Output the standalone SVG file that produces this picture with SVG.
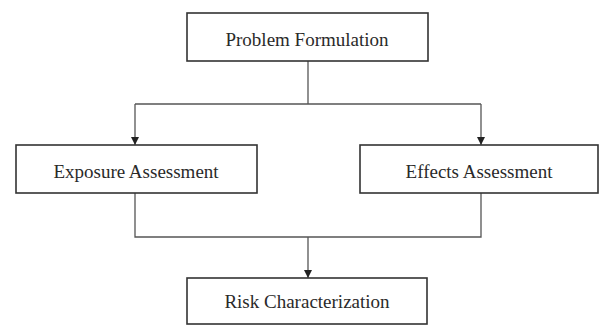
<svg xmlns="http://www.w3.org/2000/svg" width="599" height="325" viewBox="0 0 599 325">
<style>
.box{fill:#fff;stroke:#333;stroke-width:1.6}
.lbl{font-family:"Liberation Serif","Times New Roman",serif;font-size:19px;fill:#2a2a2a;text-anchor:middle;dominant-baseline:central}
.con{fill:none;stroke:#555;stroke-width:1.3}
</style>
<defs>
<marker id="arr" viewBox="0 0 8 9" refX="4" refY="9" markerWidth="8" markerHeight="9" markerUnits="userSpaceOnUse" orient="auto">
<path d="M0,0 L8,0 L4,9 Z" fill="#222" transform="rotate(-90 4 4.5) translate(0 0)"/>
</marker>
</defs>
<rect width="599" height="325" fill="#fff"/>
<g id="connectors">
<path class="con" d="M308,61 V104"/>
<path class="con" d="M135,104 H481"/>
<path class="con" d="M135,104 V145"/>
<path class="con" d="M481,104 V145"/>
<path class="con" d="M135,193 V237 H481 V193"/>
<path class="con" d="M308,237 V278"/>
<path d="M131,137 L139,137 L135,145 Z" fill="#222"/>
<path d="M477,137 L485,137 L481,145 Z" fill="#222"/>
<path d="M304,270 L312,270 L308,278 Z" fill="#222"/>
</g>
<g id="problem-formulation">
<rect class="box" x="187" y="13" width="241" height="48"/>
<text class="lbl" x="307" y="39">Problem Formulation</text>
</g>
<g id="exposure-assessment">
<rect class="box" x="16" y="145" width="241" height="48"/>
<text class="lbl" x="136" y="171">Exposure Assessment</text>
</g>
<g id="effects-assessment">
<rect class="box" x="360" y="145" width="238" height="48"/>
<text class="lbl" x="479" y="171">Effects Assessment</text>
</g>
<g id="risk-characterization">
<rect class="box" x="187" y="278" width="240" height="46"/>
<text class="lbl" x="307" y="301">Risk Characterization</text>
</g>
</svg>
